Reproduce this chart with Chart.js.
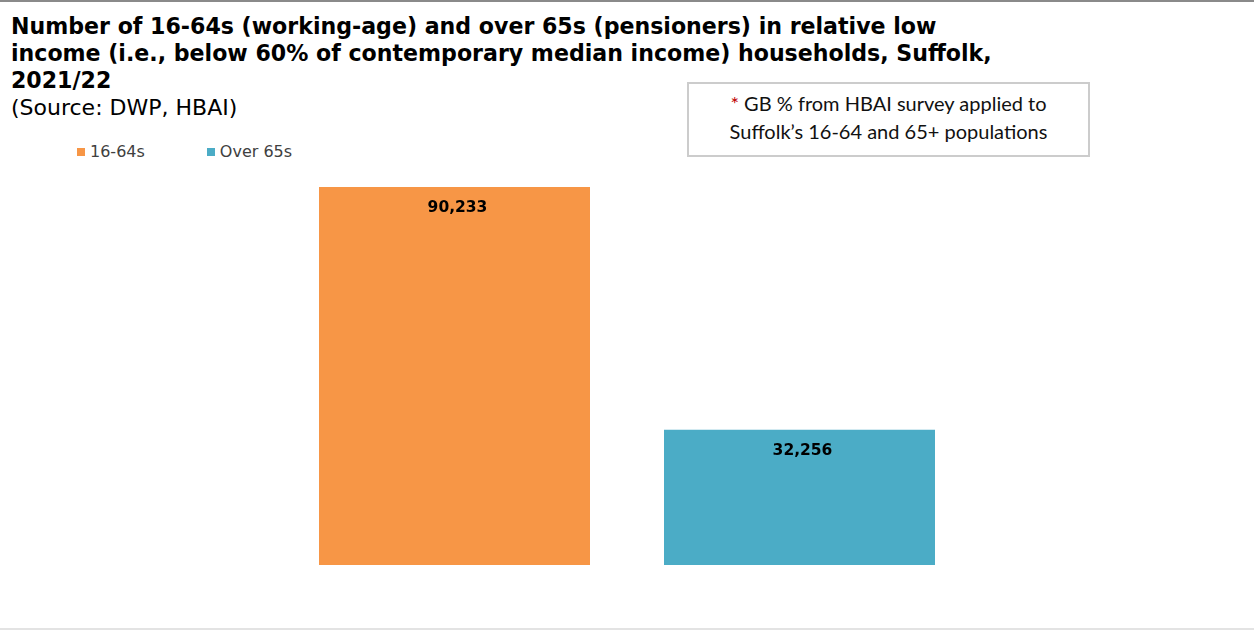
<!DOCTYPE html>
<html>
<head>
<meta charset="utf-8">
<script src="https://cdn.jsdelivr.net/npm/chart.js@4.4.0/dist/chart.umd.min.js"></script>
<style>
  html, body { margin: 0; padding: 0; background: #fff; }
  body { width: 1254px; height: 630px; position: relative; overflow: hidden; font-family: "DejaVu Sans", Verdana, sans-serif; }
  #topline { position: absolute; left: 0; top: 0; width: 1254px; height: 2px; background: #8a8a8a; }
  #bottomline { position: absolute; left: 0; top: 628px; width: 1254px; height: 2px; background: #e3e3e3; }
  #title { position: absolute; left: 11px; top: 13px; font-weight: bold; font-size: 22.1px; line-height: 27px; color: #000; white-space: nowrap; }
  #source { position: absolute; left: 11px; top: 95px; font-size: 22px; line-height: 26px; color: #000; }
  #legend { position: absolute; left: 77px; top: 142px; font-size: 16px; color: #404040; display: flex; }
  #legend span { display: inline-flex; align-items: center; margin-right: 62px; }
  #legend i { display: inline-block; width: 8px; height: 8px; margin-right: 5px; }
  #note { position: absolute; left: 687px; top: 82px; width: 403px; height: 75px; border: 2px solid #cccccc;
          font-family: Lato, "Open Sans", sans-serif; font-size: 20px; line-height: 28px; text-align: center; color: #111; padding-top: 5px; box-sizing: border-box; }
  #note b { color: #c00000; font-weight: normal; }
  #wrap { position: absolute; left: 282px; top: 146px; width: 690px; height: 419px; }
</style>
</head>
<body>
<div id="topline"></div>
<div id="bottomline"></div>
<div id="title">Number of 16-64s (working-age) and over 65s (pensioners) in relative low<br>income (i.e., below 60% of contemporary median income) households, Suffolk,<br>2021/22</div>
<div id="source">(Source: DWP, HBAI)</div>
<div id="legend"></div>
<div id="note"><b>*</b> GB % from HBAI survey applied to<br>Suffolk’s 16-64 and 65+ populations</div>
<div id="wrap"><canvas id="lowIncomeChart"></canvas></div>
<script>
// chart data
const categories = ['16-64s', 'Over 65s'];
const people = [90233, 32256];
const barColours = ['#f79646', '#4bacc6'];
const yMax = 100000;

// simple HTML legend
const legendEl = document.getElementById('legend');
categories.forEach(function (name, i) {
  const item = document.createElement('span');
  item.innerHTML = '<i style="background:' + barColours[i] + '"></i>' + name;
  legendEl.appendChild(item);
});

// value labels just inside the top of each bar
const barLabels = {
  id: 'barLabels',
  afterDatasetsDraw(chart) {
    const ctx = chart.ctx;
    const meta = chart.getDatasetMeta(0);
    ctx.save();
    ctx.font = 'bold 15.5px "DejaVu Sans", Verdana, sans-serif';
    ctx.fillStyle = '#000';
    ctx.textAlign = 'center';
    ctx.textBaseline = 'middle';
    meta.data.forEach(function (bar, i) {
      ctx.fillText(people[i].toLocaleString('en-GB'), bar.x + 3, bar.y + 21);
    });
    ctx.restore();
  }
};

document.addEventListener("DOMContentLoaded", function () {
  const ctx = document.getElementById("lowIncomeChart").getContext("2d");
  new Chart(ctx, {
    type: 'bar',
    data: {
      labels: categories,
      datasets: [{
        label: 'People in relative low income',
        data: people,
        backgroundColor: barColours,
        borderWidth: 0,
        categoryPercentage: 1,
        barPercentage: 0.7855
      }]
    },
    options: {
      responsive: true,
      maintainAspectRatio: false,
      animation: false,
      layout: { padding: 0 },
      plugins: {
        legend: { display: false },
        tooltip: { enabled: false }
      },
      scales: {
        x: { display: false },
        y: { display: false, beginAtZero: true, min: 0, max: yMax }
      }
    },
    plugins: [barLabels]
  });
});
</script>
</body>
</html>
